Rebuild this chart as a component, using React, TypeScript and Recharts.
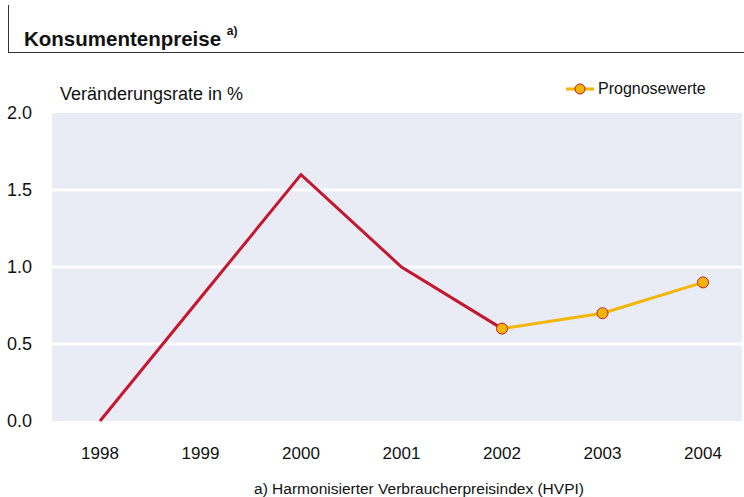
import { LineChart, Line, XAxis, YAxis, CartesianGrid } from 'recharts';

const years = ['1998', '1999', '2000', '2001', '2002', '2003', '2004'];
const istWerte = [0.0, 0.8, 1.6, 1.0, 0.6, null, null];
const prognoseWerte = [null, null, null, null, 0.6, 0.7, 0.9];
const yTicks = [0, 0.5, 1.0, 1.5, 2.0];

const RED = '#C4172F';
const YELLOW = '#F2B705';
const FONT = '"Liberation Sans", Arial, sans-serif';

const data = years.map((y, i) => ({
  year: y,
  ist: istWerte[i],
  prognose: prognoseWerte[i],
}));

function LegendBox() {
  return (
    <div style={{ display: 'flex', alignItems: 'center', fontFamily: FONT, fontSize: 16, color: '#111' }}>
      <svg width={28} height={14} style={{ marginRight: 4 }}>
        <line x1={0} y1={7} x2={28} y2={7} stroke={YELLOW} strokeWidth={3} />
        <circle cx={14} cy={7} r={5} fill={YELLOW} stroke={RED} strokeWidth={1} />
      </svg>
      <span>Prognosewerte</span>
    </div>
  );
}

export default function App() {
  return (
    <div style={{ position: 'absolute', left: 0, top: 0, width: 744, height: 497, background: '#fff', fontFamily: FONT }}>
      <div style={{ position: 'absolute', left: 8, top: 5, width: 1, height: 47, background: '#333' }} />
      <div style={{ position: 'absolute', left: 8, top: 52, width: 736, height: 1, background: '#333' }} />
      <div style={{ position: 'absolute', left: 24, top: 27, fontSize: 20.5, fontWeight: 'bold', color: '#111', whiteSpace: 'nowrap' }}>
        Konsumentenpreise <sup style={{ fontSize: 12, position: 'relative', top: -3 }}>a)</sup>
      </div>
      <div style={{ position: 'absolute', left: 60, top: 84, fontSize: 18, color: '#111' }}>Veränderungsrate in %</div>
      <div style={{ position: 'absolute', left: 566, top: 80 }}>
        <LegendBox />
      </div>
      <LineChart width={744} height={497} data={data} margin={{ top: 113, right: 2, bottom: 46, left: 0 }}>
        <CartesianGrid fill="#E9EBF5" stroke="#fff" strokeWidth={3} vertical={false} horizontalValues={[0.5, 1.0, 1.5]} />
        <XAxis
          dataKey="year"
          padding={{ left: 48, right: 39 }}
          axisLine={false}
          tickLine={false}
          tick={{ fontSize: 17, fill: '#111', fontFamily: FONT }}
          tickMargin={20}
        />
        <YAxis
          domain={[0, 2]}
          ticks={yTicks}
          width={52}
          axisLine={false}
          tickLine={false}
          tickFormatter={(v: number) => v.toFixed(1)}
          tick={{ fontSize: 18, fill: '#111', fontFamily: FONT }}
          tickMargin={14}
        />
        <Line dataKey="ist" stroke={RED} strokeWidth={3} dot={false} isAnimationActive={false} />
        <Line
          dataKey="prognose"
          stroke={YELLOW}
          strokeWidth={3}
          dot={{ r: 5.5, fill: YELLOW, stroke: RED, strokeWidth: 1 }}
          isAnimationActive={false}
        />
      </LineChart>
      <div style={{ position: 'absolute', left: 0, width: 744, top: 480, textAlign: 'center', fontSize: 15.5, color: '#111' }}>
        <span style={{ position: 'relative', left: 47 }}>a) Harmonisierter Verbraucherpreisindex (HVPI)</span>
      </div>
    </div>
  );
}
